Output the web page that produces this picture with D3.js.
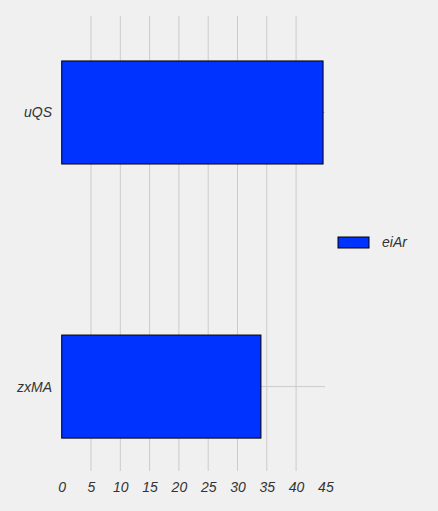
<!DOCTYPE html>
<html><head><meta charset="utf-8">
<script src="https://cdn.jsdelivr.net/npm/d3@7"></script>
<style>body{margin:0;background:#f0f0f0;}svg{display:block;}text{font-family:"Liberation Sans",Arial,sans-serif;font-style:italic;}</style>
</head><body>
<script>
const categories = ["zxMA", "uQS"];
const values = [34.0, 44.6];
const seriesName = "eiAr";
const xTicks = [0, 5, 10, 15, 20, 25, 30, 35, 40, 45];

const W = 438, H = 511;
const svg = d3.select("body").append("svg").attr("width", W).attr("height", H);
svg.append("rect").attr("width", W).attr("height", H).attr("fill", "#f0f0f0");

const x = d3.scaleLinear().domain([0, 45]).range([61.7, 325.4]);
const xRight = 325;
const y = d3.scaleLinear().domain([-0.308, 1.352]).range([471, 16]);
const half = 0.188;

// vertical grid
svg.append("g").selectAll("line").data(xTicks.filter(d => d > 0 && d < 45)).join("line")
  .attr("x1", d => x(d)).attr("x2", d => x(d)).attr("y1", 16).attr("y2", 471)
  .attr("stroke", "#cbcbcb").attr("stroke-width", 1);
// horizontal grid
svg.append("g").selectAll("line").data(categories).join("line")
  .attr("x1", x(0)).attr("x2", xRight).attr("y1", (d, i) => y(i)).attr("y2", (d, i) => y(i))
  .attr("stroke", "#cbcbcb").attr("stroke-width", 1);

// bars
svg.append("g").selectAll("rect").data(values).join("rect")
  .attr("x", x(0)).attr("width", d => x(d) - x(0))
  .attr("y", (d, i) => y(i + half)).attr("height", (d, i) => y(i - half) - y(i + half))
  .attr("fill", "#0033ff").attr("stroke", "#000").attr("stroke-width", 1);

// x tick labels
const xAxis = d3.axisBottom(x).tickValues(xTicks).tickSize(0).tickPadding(0);
const gx = svg.append("g").attr("transform", "translate(0,482)").call(xAxis);
gx.select(".domain").remove();
gx.selectAll("text").attr("font-size", 14).attr("fill", "#333").attr("dy", "0.71em")
  .style("font-family", "'Liberation Sans',Arial,sans-serif").style("font-style", "italic");

// y tick labels
const yAxis = d3.axisLeft(y).tickValues([0, 1]).tickFormat(i => categories[i]).tickSize(0).tickPadding(0);
const gy = svg.append("g").attr("transform", "translate(52,0)").call(yAxis);
gy.select(".domain").remove();
gy.selectAll("text").attr("font-size", 14).attr("fill", "#333")
  .style("font-family", "'Liberation Sans',Arial,sans-serif").style("font-style", "italic");

// legend
const lg = svg.append("g").attr("transform", "translate(338,237)");
lg.append("rect").attr("width", 31).attr("height", 11).attr("fill", "#0033ff").attr("stroke", "#000").attr("stroke-width", 1);
lg.append("text").attr("x", 44).attr("y", 5.5).attr("dy", "0.35em").attr("font-size", 14).attr("fill", "#333").text(seriesName);
</script>
</body></html>
